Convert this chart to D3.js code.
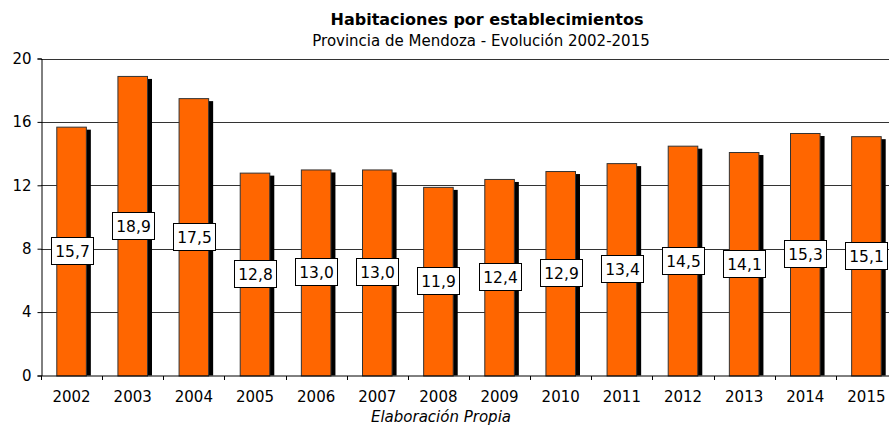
<!DOCTYPE html>
<html>
<head>
<meta charset="utf-8">
<script src="https://cdn.jsdelivr.net/npm/d3@7"></script>
<style>
body { margin: 0; background: #fff; }
text { font-family: "DejaVu Sans", Verdana, sans-serif; fill: #000; }
</style>
</head>
<body>
<script>
var w = 889;
var h = 434;

var years = ["2002", "2003", "2004", "2005", "2006", "2007", "2008",
             "2009", "2010", "2011", "2012", "2013", "2014", "2015"];
var habitaciones = [15.7, 18.9, 17.5, 12.8, 13.0, 13.0, 11.9,
                    12.4, 12.9, 13.4, 14.5, 14.1, 15.3, 15.1];
var yTicks = [0, 4, 8, 12, 16, 20];

// plot frame; the band range runs a little past the window, as in the original
var mLeft = 41, mRight = 889, mTop = 58.5, mBottom = 375.5;

var svg = d3.select("body")
    .append("svg")
    .attr("width", w)
    .attr("height", h);

var x = d3.scaleBand()
    .domain(years)
    .range([mLeft, 897])
    .paddingInner(0.5)
    .paddingOuter(0.25);

var y = d3.scaleLinear()
    .domain([0, 20])
    .range([mBottom, mTop]);

// grid lines
svg.append("g")
    .selectAll("line")
    .data(yTicks.filter(function(d) { return d > 0; }))
    .enter().append("line")
    .attr("x1", mLeft)
    .attr("x2", mRight)
    .attr("y1", function(d) { return Math.round(y(d)) + 0.5; })
    .attr("y2", function(d) { return Math.round(y(d)) + 0.5; })
    .attr("stroke", "#333")
    .attr("stroke-width", 1);

// bar shadows
svg.append("g")
    .selectAll("rect")
    .data(habitaciones)
    .enter().append("rect")
    .attr("x", function(d, i) { return x(years[i]) + 4; })
    .attr("y", function(d) { return y(d) + 3; })
    .attr("width", x.bandwidth())
    .attr("height", function(d) { return mBottom - y(d) - 3; })
    .attr("fill", "#000");

// bars
svg.append("g")
    .selectAll("rect")
    .data(habitaciones)
    .enter().append("rect")
    .attr("x", function(d, i) { return x(years[i]) + 0.5; })
    .attr("y", function(d) { return y(d) + 0.5; })
    .attr("width", x.bandwidth() - 1)
    .attr("height", function(d) { return mBottom - y(d); })
    .attr("fill", "#ff6600")
    .attr("stroke", "#333")
    .attr("stroke-width", 1);

// value labels at middle of bars
var lab = svg.append("g")
    .selectAll("g")
    .data(habitaciones)
    .enter().append("g")
    .attr("transform", function(d, i) {
        return "translate(" + Math.round(x(years[i]) + x.bandwidth() / 2) + "," + Math.round(y(d / 2)) + ")";
    });

lab.append("rect")
    .attr("x", -20.5)
    .attr("y", -13.5)
    .attr("width", 42)
    .attr("height", 27)
    .attr("fill", "#fff")
    .attr("stroke", "#000")
    .attr("stroke-width", 1);

lab.append("text")
    .attr("text-anchor", "middle")
    .attr("x", 0.5)
    .attr("y", 6)
    .style("font-size", "15.5px")
    .text(function(d) { return d3.format(".1f")(d).replace(".", ","); });

// axes
var yAxis = d3.axisLeft(y).tickValues(yTicks).tickSize(4).tickPadding(6);
var gy = svg.append("g")
    .attr("transform", "translate(" + (mLeft + 0.5) + ",0)")
    .call(yAxis);
gy.select(".domain").attr("stroke", "#000");
gy.selectAll(".tick line").attr("stroke", "#000");
gy.selectAll("text").style("font-size", "15px").attr("font-family", null);

var gx = svg.append("g")
    .attr("transform", "translate(0," + (mBottom + 0.5) + ")");
gx.append("line")
    .attr("x1", mLeft).attr("x2", mRight)
    .attr("stroke", "#000");
gx.selectAll("line.tk")
    .data(years)
    .enter().append("line")
    .attr("class", "tk")
    .attr("x1", function(d) { return Math.round(x(d) - x.step() * x.paddingInner() / 2) + 0.5; })
    .attr("x2", function(d) { return Math.round(x(d) - x.step() * x.paddingInner() / 2) + 0.5; })
    .attr("y1", 0).attr("y2", 4)
    .attr("stroke", "#000");
gx.selectAll("text")
    .data(years)
    .enter().append("text")
    .attr("x", function(d) { return x(d) + x.bandwidth() / 2; })
    .attr("y", 26)
    .attr("text-anchor", "middle")
    .style("font-size", "15px")
    .text(function(d) { return d; });

// titles
svg.append("text")
    .attr("x", 487).attr("y", 25)
    .attr("text-anchor", "middle")
    .style("font-size", "16px")
    .style("font-weight", "bold")
    .text("Habitaciones por establecimientos");

svg.append("text")
    .attr("x", 481).attr("y", 46)
    .attr("text-anchor", "middle")
    .style("font-size", "15px")
    .text("Provincia de Mendoza - Evolución 2002-2015");

svg.append("text")
    .attr("x", 441).attr("y", 422)
    .attr("text-anchor", "middle")
    .style("font-size", "15px")
    .style("font-style", "italic")
    .text("Elaboración Propia");
</script>
</body>
</html>
